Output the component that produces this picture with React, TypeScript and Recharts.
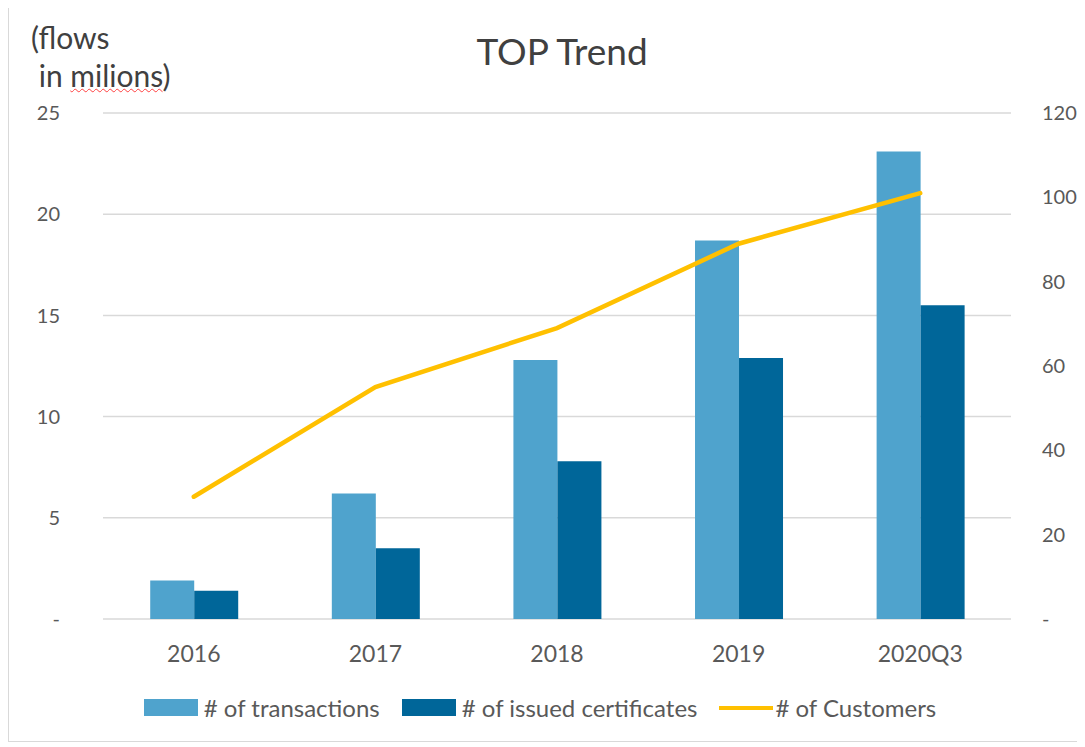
import React from 'react';
import { ComposedChart, Bar, Line, XAxis, YAxis, CartesianGrid, Legend } from 'recharts';

const periods = ['2016', '2017', '2018', '2019', '2020Q3'];
const transactions = [1.9, 6.2, 12.8, 18.7, 23.1];
const certificates = [1.4, 3.5, 7.8, 12.9, 15.5];
const customers = [29, 55, 69, 89, 101];
const leftTicks = [0, 5, 10, 15, 20, 25];
const rightTicks = [0, 20, 40, 60, 80, 100, 120];
const seriesNames = ['# of transactions', '# of issued certificates', '# of Customers'];

const data = periods.map((p, i) => ({
  period: p,
  transactions: transactions[i],
  certificates: certificates[i],
  customers: customers[i],
}));

const FONT = 'Lato, "Open Sans", sans-serif';
const TEXT = '#595959';
const LIGHT = '#4FA3CD';
const DARK = '#006699';
const GOLD = '#FFC000';

const dash = (v: number) => (v === 0 ? '-' : String(v));

function LegendRow(props: any) {
  const items = [...(props.payload || [])].sort(
    (a: any, b: any) => seriesNames.indexOf(a.value) - seriesNames.indexOf(b.value)
  );
  return (
    <div style={{ display: 'flex', justifyContent: 'center', alignItems: 'center', fontFamily: FONT, fontSize: 24, color: TEXT, paddingRight: 42 }}>
      {items.map((it: any, i: number) => (
        <div key={i} style={{ display: 'flex', alignItems: 'center', marginLeft: i === 0 ? 0 : 22 }}>
          {it.type === 'line' ? (
            <span style={{ display: 'inline-block', width: 54, height: 4, background: it.color, marginRight: 2 }} />
          ) : (
            <span style={{ display: 'inline-block', width: 54, height: 17, background: it.color, marginRight: 6 }} />
          )}
          <span>{it.value}</span>
        </div>
      ))}
    </div>
  );
}

export default function App() {
  return (
    <div style={{ position: 'relative', marginTop: -2, width: 1072, height: 736, border: '1px solid #d9d9d9', boxSizing: 'border-box', background: '#fff' }}>
      <div style={{ position: 'absolute', left: 0, right: 0, top: 21, textAlign: 'center', fontFamily: FONT, fontSize: 37, color: '#404040', paddingLeft: 36 }}>
        TOP Trend
      </div>
      <div style={{ position: 'absolute', left: 22, top: 11, fontFamily: FONT, fontSize: 30, color: '#404040', lineHeight: '38px', whiteSpace: 'pre' }}>
        <div>(flows</div>
        <div>
          {' in '}
          <span style={{ textDecoration: 'underline wavy #ff4040', textDecorationThickness: 1 }}>milions</span>)
        </div>
      </div>
      <div style={{ position: 'absolute', left: 0, top: 0 }}>
        <ComposedChart
          width={1070}
          height={734}
          data={data}
          margin={{ top: 106, right: 0, bottom: 0, left: 34 }}
          barCategoryGap="26%"
          barGap={0}
        >
          <CartesianGrid yAxisId="left" vertical={false} stroke="#d9d9d9" strokeWidth={1.5} />
          <XAxis
            dataKey="period"
            axisLine={false}
            tickLine={false}
            tickSize={0}
            tickMargin={27}
            height={82}
            tick={{ fontFamily: FONT, fontSize: 23, fill: TEXT }}
          />
          <YAxis
            yAxisId="left"
            domain={[0, 25]}
            ticks={leftTicks}
            tickFormatter={dash}
            axisLine={false}
            tickLine={false}
            tickSize={0}
            tickMargin={43}
            width={60}
            tick={{ fontFamily: FONT, fontSize: 20, fill: TEXT }}
          />
          <YAxis
            yAxisId="right"
            orientation="right"
            domain={[0, 120]}
            ticks={rightTicks}
            tickFormatter={dash}
            axisLine={false}
            tickLine={false}
            tickSize={0}
            tickMargin={31}
            width={68}
            tick={{ fontFamily: FONT, fontSize: 20, fill: TEXT }}
          />
          <Bar yAxisId="left" dataKey="transactions" name="# of transactions" fill={LIGHT} isAnimationActive={false} />
          <Bar yAxisId="left" dataKey="certificates" name="# of issued certificates" fill={DARK} isAnimationActive={false} />
          <Line
            yAxisId="right"
            type="linear"
            dataKey="customers"
            name="# of Customers"
            stroke={GOLD}
            strokeWidth={4.5}
            strokeLinecap="round"
            dot={false}
            activeDot={false}
            legendType="line"
            isAnimationActive={false}
          />
          <Legend verticalAlign="bottom" wrapperStyle={{ height: 40, bottom: 8 }} content={LegendRow} />
        </ComposedChart>
      </div>
    </div>
  );
}
